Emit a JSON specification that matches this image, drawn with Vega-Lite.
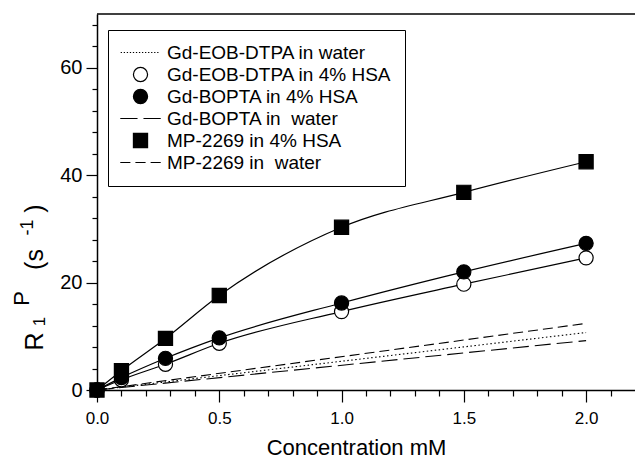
{
  "$schema": "https://vega.github.io/schema/vega-lite/v6.json",
  "width": 538,
  "height": 376,
  "autosize": {"type": "none"},
  "padding": {"left": 97, "top": 14, "right": 0, "bottom": 71},
  "background": "white",
  "config": {
    "view": {"stroke": null},
    "font": "Liberation Sans",
    "axis": {"grid": false, "domainColor": "black", "tickColor": "black", "labelColor": "black", "titleColor": "black", "domainWidth": 1.5, "tickWidth": 1.2, "labelFont": "Liberation Sans", "titleFont": "Liberation Sans", "titleFontWeight": "normal", "labelFlush": false},
    "legend": {
      "orient": "none", "legendX": 11, "legendY": 16,
      "strokeColor": "black", "strokeWidth": 1, "fillColor": "white",
      "padding": 13, "labelFont": "Liberation Sans", "labelFontSize": 19, "labelColor": "black", "labelLimit": 400,
      "symbolSize": 200, "symbolStrokeColor": "black", "symbolStrokeWidth": 1.2,
      "symbolOffset": 10, "labelOffset": 17, "rowPadding": 2
    }
  },
  "data": {"values": [
    {"c": 0, "r": 0, "series": "Gd-EOB-DTPA in water", "kind": "water"},
    {"c": 2, "r": 10.7, "series": "Gd-EOB-DTPA in water", "kind": "water"},
    {"c": 0, "r": 0, "series": "Gd-BOPTA in\u00a0 water", "kind": "water"},
    {"c": 2, "r": 9.2, "series": "Gd-BOPTA in\u00a0 water", "kind": "water"},
    {"c": 0, "r": 0, "series": "MP-2269 in\u00a0 water", "kind": "water"},
    {"c": 2, "r": 12.4, "series": "MP-2269 in\u00a0 water", "kind": "water"},
    {"c": 0, "r": 0, "series": "Gd-EOB-DTPA in 4% HSA", "kind": "hsa"},
    {"c": 0.1, "r": 1.9, "series": "Gd-EOB-DTPA in 4% HSA", "kind": "hsa"},
    {"c": 0.28, "r": 4.8, "series": "Gd-EOB-DTPA in 4% HSA", "kind": "hsa"},
    {"c": 0.5, "r": 8.7, "series": "Gd-EOB-DTPA in 4% HSA", "kind": "hsa"},
    {"c": 1.0, "r": 14.6, "series": "Gd-EOB-DTPA in 4% HSA", "kind": "hsa"},
    {"c": 1.5, "r": 19.7, "series": "Gd-EOB-DTPA in 4% HSA", "kind": "hsa"},
    {"c": 2.0, "r": 24.6, "series": "Gd-EOB-DTPA in 4% HSA", "kind": "hsa"},
    {"c": 0, "r": 0, "series": "Gd-BOPTA in 4% HSA", "kind": "hsa"},
    {"c": 0.1, "r": 2.3, "series": "Gd-BOPTA in 4% HSA", "kind": "hsa"},
    {"c": 0.28, "r": 5.9, "series": "Gd-BOPTA in 4% HSA", "kind": "hsa"},
    {"c": 0.5, "r": 9.7, "series": "Gd-BOPTA in 4% HSA", "kind": "hsa"},
    {"c": 1.0, "r": 16.2, "series": "Gd-BOPTA in 4% HSA", "kind": "hsa"},
    {"c": 1.5, "r": 22.0, "series": "Gd-BOPTA in 4% HSA", "kind": "hsa"},
    {"c": 2.0, "r": 27.3, "series": "Gd-BOPTA in 4% HSA", "kind": "hsa"},
    {"c": 0, "r": 0, "series": "MP-2269 in 4% HSA", "kind": "hsa"},
    {"c": 0.1, "r": 3.6, "series": "MP-2269 in 4% HSA", "kind": "hsa"},
    {"c": 0.28, "r": 9.6, "series": "MP-2269 in 4% HSA", "kind": "hsa"},
    {"c": 0.5, "r": 17.6, "series": "MP-2269 in 4% HSA", "kind": "hsa"},
    {"c": 1.0, "r": 30.3, "series": "MP-2269 in 4% HSA", "kind": "hsa"},
    {"c": 1.5, "r": 36.8, "series": "MP-2269 in 4% HSA", "kind": "hsa"},
    {"c": 2.0, "r": 42.5, "series": "MP-2269 in 4% HSA", "kind": "hsa"}
  ]},
  "resolve": {"axis": {"x": "independent", "y": "independent"}},
  "layer": [
    {
      "layer": [
        {
          "transform": [{"filter": "datum.kind == 'water'"}],
          "mark": {"type": "line", "color": "black", "strokeWidth": 1.1},
          "encoding": {
            "x": {"field": "c", "type": "quantitative", "scale": {"domain": [0, 2.2], "nice": false},
              "axis": {"orient": "bottom", "title": "Concentration mM", "titleFontSize": 22, "titleBaseline": "alphabetic", "titleAlign": "center", "titleX": 259, "titleY": 64,
                "labelFontSize": 17, "labelPadding": 8, "tickSize": 12, "format": ".1f",
                "values": [0, 0.5, 1.0, 1.5, 2.0]}},
            "y": {"field": "r", "type": "quantitative", "scale": {"domain": [0, 70], "nice": false},
              "axis": {"orient": "left", "title": "R", "titleFontSize": 25, "titleAngle": -90, "titleBaseline": "alphabetic", "titleAlign": "center", "titleX": -55, "titleY": 327,
                "labelFontSize": 20, "labelPadding": 4, "tickSize": 11, "format": "d",
                "values": [0, 20, 40, 60]}},
            "detail": {"field": "series"},
            "strokeDash": {"field": "series", "type": "nominal", "legend": null,
              "scale": {"domain": ["Gd-EOB-DTPA in water", "Gd-BOPTA in\u00a0 water", "MP-2269 in\u00a0 water"], "range": [[1.5, 2.5], [16, 6], [10, 5]]}}
          }
        },
        {
          "transform": [{"filter": "datum.kind == 'hsa'"}],
          "mark": {"type": "line", "color": "black", "strokeWidth": 1.2, "interpolate": "monotone"},
          "encoding": {
            "x": {"field": "c", "type": "quantitative"},
            "y": {"field": "r", "type": "quantitative"},
            "detail": {"field": "series"}
          }
        },
        {
          "transform": [{"filter": "datum.kind == 'hsa'"}],
          "mark": {"type": "point", "filled": true, "strokeWidth": 1.2, "size": 200, "opacity": 1},
          "encoding": {
            "x": {"field": "c", "type": "quantitative"},
            "y": {"field": "r", "type": "quantitative"},
            "shape": {"field": "series", "type": "nominal", "legend": {"title": null},
              "scale": {"domain": ["Gd-EOB-DTPA in water", "Gd-EOB-DTPA in 4% HSA", "Gd-BOPTA in 4% HSA", "Gd-BOPTA in\u00a0 water", "MP-2269 in 4% HSA", "MP-2269 in\u00a0 water"],
                "range": [
                  "M-2.8,0h0.18M-2.37,0h0.18M-1.94,0h0.18M-1.51,0h0.18M-1.08,0h0.18M-0.65,0h0.18M-0.22,0h0.18M0.21,0h0.18M0.64,0h0.18M1.07,0h0.18M1.5,0h0.18M1.93,0h0.18M2.36,0h0.18",
                  "circle", "circle",
                  "M-2.86,0H-0.42M0.42,0H2.86",
                  "square",
                  "M-2.86,0H-1.43M-0.72,0H0.72M1.43,0H2.86"]}},
            "fill": {"field": "series", "type": "nominal", "legend": {"title": null},
              "scale": {"domain": ["Gd-EOB-DTPA in water", "Gd-EOB-DTPA in 4% HSA", "Gd-BOPTA in 4% HSA", "Gd-BOPTA in\u00a0 water", "MP-2269 in 4% HSA", "MP-2269 in\u00a0 water"],
                "range": ["black", "white", "black", "black", "black", "black"]}},
            "stroke": {"field": "series", "type": "nominal", "legend": {"title": null},
              "scale": {"domain": ["Gd-EOB-DTPA in water", "Gd-EOB-DTPA in 4% HSA", "Gd-BOPTA in 4% HSA", "Gd-BOPTA in\u00a0 water", "MP-2269 in 4% HSA", "MP-2269 in\u00a0 water"],
                "range": ["black", "black", "black", "black", "black", "black"]}}
          }
        },
        {
          "data": {"values": [{}]},
          "mark": {"type": "rule", "color": "black", "strokeWidth": 1.5},
          "encoding": {"y": {"datum": 70}}
        }
      ]
    },
    {
      "data": {"values": [{}]},
      "mark": {"type": "point", "opacity": 0},
      "encoding": {
        "x": {"datum": 0, "type": "quantitative",
          "axis": {"orient": "bottom", "title": null, "labels": false, "domain": false, "tickSize": 6,
            "values": [0.1, 0.2, 0.3, 0.4, 0.6, 0.7, 0.8, 0.9, 1.1, 1.2, 1.3, 1.4, 1.6, 1.7, 1.8, 1.9, 2.1]}},
        "y": {"datum": 0, "type": "quantitative",
          "axis": {"orient": "left", "title": null, "labels": false, "domain": false, "tickSize": 5,
            "values": [4, 8, 12, 16, 24, 28, 32, 36, 44, 48, 52, 56, 64, 68]}}
      }
    },
    {
      "data": {"values": [{}]},
      "mark": {"type": "point", "opacity": 0},
      "encoding": {"y": {"datum": 0, "type": "quantitative",
        "axis": {"orient": "left", "title": "1", "titleFontSize": 17, "titleAngle": -90, "titleBaseline": "alphabetic", "titleAlign": "center", "titleX": -53, "titleY": 307, "domain": false, "ticks": false, "labels": false}}}
    },
    {
      "data": {"values": [{}]},
      "mark": {"type": "point", "opacity": 0},
      "encoding": {"y": {"datum": 0, "type": "quantitative",
        "axis": {"orient": "left", "title": "P", "titleFontSize": 22, "titleAngle": -90, "titleBaseline": "alphabetic", "titleAlign": "center", "titleX": -69, "titleY": 284, "domain": false, "ticks": false, "labels": false}}}
    },
    {
      "data": {"values": [{}]},
      "mark": {"type": "point", "opacity": 0},
      "encoding": {"y": {"datum": 0, "type": "quantitative",
        "axis": {"orient": "left", "title": "(s", "titleFontSize": 25, "titleAngle": -90, "titleBaseline": "alphabetic", "titleAlign": "center", "titleX": -55, "titleY": 245, "domain": false, "ticks": false, "labels": false}}}
    },
    {
      "data": {"values": [{}]},
      "mark": {"type": "point", "opacity": 0},
      "encoding": {"y": {"datum": 0, "type": "quantitative",
        "axis": {"orient": "left", "title": "-1", "titleFontSize": 18, "titleAngle": -90, "titleBaseline": "alphabetic", "titleAlign": "center", "titleX": -65, "titleY": 213, "domain": false, "ticks": false, "labels": false}}}
    },
    {
      "data": {"values": [{}]},
      "mark": {"type": "point", "opacity": 0},
      "encoding": {"y": {"datum": 0, "type": "quantitative",
        "axis": {"orient": "left", "title": ")", "titleFontSize": 25, "titleAngle": -90, "titleBaseline": "alphabetic", "titleAlign": "center", "titleX": -55, "titleY": 194, "domain": false, "ticks": false, "labels": false}}}
    }
  ]
}
